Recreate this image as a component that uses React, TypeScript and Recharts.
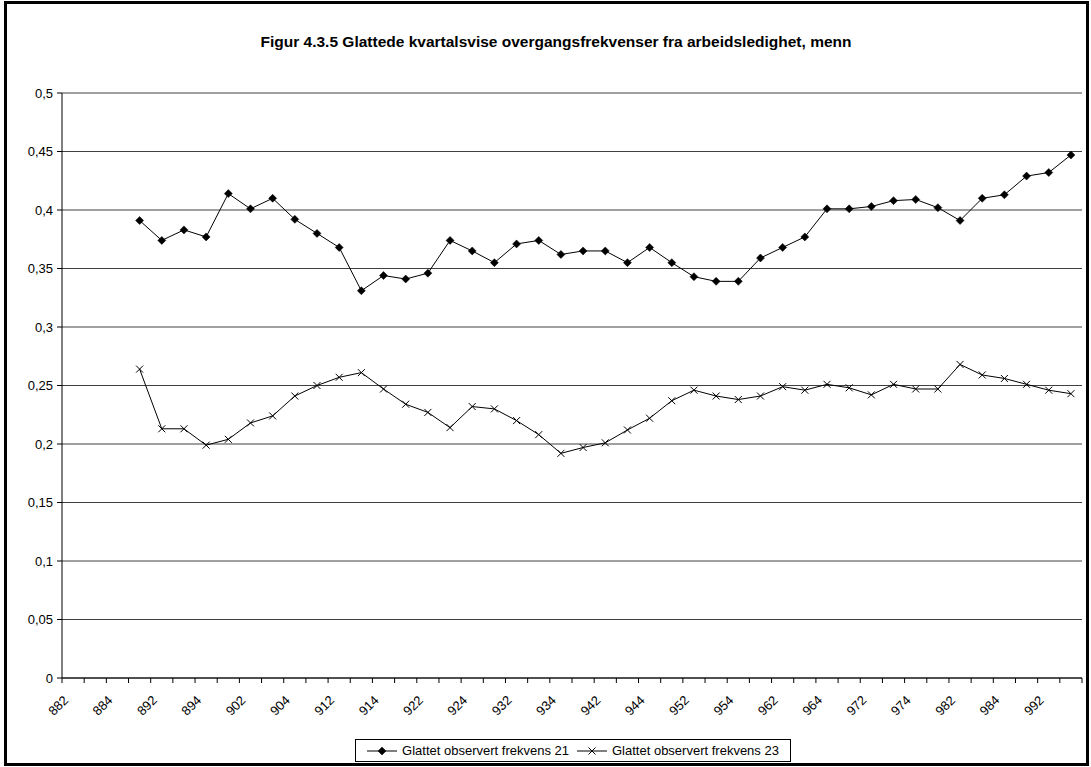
import { ComposedChart, Line, XAxis, YAxis, CartesianGrid, Legend } from "recharts";

// quarters, yyq (1988 q2 .. 1999 q3)
const quarters = [
  "882", "883", "884",
  "891", "892", "893", "894",
  "901", "902", "903", "904",
  "911", "912", "913", "914",
  "921", "922", "923", "924",
  "931", "932", "933", "934",
  "941", "942", "943", "944",
  "951", "952", "953", "954",
  "961", "962", "963", "964",
  "971", "972", "973", "974",
  "981", "982", "983", "984",
  "991", "992", "993",
];

const frekvens21 = [
  null, null, null,
  0.391, 0.374, 0.383, 0.377, 0.414, 0.401, 0.41, 0.392, 0.38, 0.368,
  0.331, 0.344, 0.341, 0.346, 0.374, 0.365, 0.355, 0.371, 0.374, 0.362,
  0.365, 0.365, 0.355, 0.368, 0.355, 0.343, 0.339, 0.339, 0.359, 0.368,
  0.377, 0.401, 0.401, 0.403, 0.408, 0.409, 0.402, 0.391, 0.41, 0.413,
  0.429, 0.432, 0.447,
];

const frekvens23 = [
  null, null, null,
  0.264, 0.213, 0.213, 0.199, 0.204, 0.218, 0.224, 0.241, 0.25, 0.257,
  0.261, 0.247, 0.234, 0.227, 0.214, 0.232, 0.23, 0.22, 0.208, 0.192,
  0.197, 0.201, 0.212, 0.222, 0.237, 0.246, 0.241, 0.238, 0.241, 0.249,
  0.246, 0.251, 0.248, 0.242, 0.251, 0.247, 0.247, 0.268, 0.259, 0.256,
  0.251, 0.246, 0.243,
];

const yTicks = [0, 0.05, 0.1, 0.15, 0.2, 0.25, 0.3, 0.35, 0.4, 0.45, 0.5];

const data = quarters.map((q, i) => ({ q, f21: frekvens21[i], f23: frekvens23[i] }));

const FONT = "'Liberation Sans', Arial, sans-serif";

function Diamond({ cx, cy, size = 4 }: { cx: number; cy: number; size?: number }) {
  return (
    <path
      d={`M${cx},${cy - size} L${cx + size},${cy} L${cx},${cy + size} L${cx - size},${cy} Z`}
      fill="#000"
      stroke="#000"
      strokeWidth={0.5}
    />
  );
}

function Cross({ cx, cy, size = 3.5 }: { cx: number; cy: number; size?: number }) {
  return (
    <path
      d={`M${cx - size},${cy - size} L${cx + size},${cy + size} M${cx - size},${cy + size} L${cx + size},${cy - size}`}
      stroke="#000"
      strokeWidth={1}
      fill="none"
    />
  );
}

const diamondDot = (p: any) => {
  if (p.value == null || p.cy == null) return <g key={p.key} />;
  return <Diamond key={p.key} cx={p.cx} cy={p.cy} />;
};

const crossDot = (p: any) => {
  if (p.value == null || p.cy == null) return <g key={p.key} />;
  return <Cross key={p.key} cx={p.cx} cy={p.cy} />;
};

// excel-style: tick marks between categories, every other label rotated
function QuarterTick(props: any) {
  const { x, y, payload, index } = props;
  const half = payload?.offset || 11.09;
  const last = index === quarters.length - 1;
  return (
    <g>
      <line x1={x - half} x2={x - half} y1={y - 5} y2={y} stroke="#000" />
      {last && <line x1={x + half} x2={x + half} y1={y - 5} y2={y} stroke="#000" />}
      {index % 2 === 0 && (
        <text
          x={x - 4}
          y={y + 18}
          transform={`rotate(-45 ${x - 4} ${y + 18})`}
          textAnchor="end"
          fontSize={13}
          fontFamily={FONT}
          fill="#000"
        >
          {payload.value}
        </text>
      )}
    </g>
  );
}

function LegendBox({ payload }: any) {
  return (
    <div
      style={{
        border: "1px solid #000",
        boxSizing: "border-box",
        height: 23,
        display: "flex",
        alignItems: "center",
        justifyContent: "center",
        fontFamily: FONT,
        fontSize: 13,
        color: "#000",
        background: "#fff",
        gap: 8,
      }}
    >
      {(payload || []).map((e: any) => (
        <div key={e.dataKey} style={{ display: "flex", alignItems: "center" }}>
          <svg width={30} height={12} style={{ marginRight: 5 }}>
            <line x1={0} x2={30} y1={6} y2={6} stroke="#000" />
            {e.dataKey === "f21" ? <Diamond cx={15} cy={6} /> : <Cross cx={15} cy={6} />}
          </svg>
          <span>{e.value}</span>
        </div>
      ))}
    </div>
  );
}

export default function App() {
  return (
    <div style={{ position: "absolute", left: 0, top: 0, width: 1091, height: 767, background: "#fff" }}>
      <div
        style={{
          position: "absolute",
          left: 4,
          top: 1,
          width: 1085,
          height: 765,
          border: "3px solid #000",
          boxSizing: "border-box",
          pointerEvents: "none",
          zIndex: 2,
        }}
      />
      <div
        style={{
          position: "absolute",
          left: 0,
          width: 1112,
          top: 33,
          textAlign: "center",
          fontFamily: FONT,
          fontWeight: "bold",
          fontSize: 15.5,
          color: "#000",
        }}
      >
        Figur 4.3.5 Glattede kvartalsvise overgangsfrekvenser fra arbeidsledighet, menn
      </div>
      <ComposedChart
        width={1091}
        height={767}
        data={data}
        margin={{ top: 93, right: 9, left: 0, bottom: 29 }}
      >
        <CartesianGrid vertical={false} stroke="#404040" />
        <XAxis
          dataKey="q"
          scale="band"
          interval={0}
          height={60}
          tickLine={false}
          tickSize={5}
          tickMargin={0}
          axisLine={{ stroke: "#000" }}
          tick={QuarterTick}
        />
        <YAxis
          width={62}
          domain={[0, 0.5]}
          ticks={yTicks}
          interval={0}
          tickSize={5}
          tickMargin={4}
          axisLine={{ stroke: "#000" }}
          tickLine={{ stroke: "#000" }}
          tick={{ fontSize: 13, fontFamily: FONT, fill: "#000" }}
          tickFormatter={(v: number) => String(v).replace(".", ",")}
        />
        <Legend
          verticalAlign="middle"
          align="center"
          content={LegendBox}
          wrapperStyle={{ left: 355, top: 739, width: 436, height: 23 }}
        />
        <Line
          dataKey="f21"
          name="Glattet observert frekvens 21"
          stroke="#000"
          strokeWidth={1}
          dot={diamondDot}
          activeDot={false}
          isAnimationActive={false}
        />
        <Line
          dataKey="f23"
          name="Glattet observert frekvens 23"
          stroke="#000"
          strokeWidth={1}
          dot={crossDot}
          activeDot={false}
          isAnimationActive={false}
        />
      </ComposedChart>
    </div>
  );
}
